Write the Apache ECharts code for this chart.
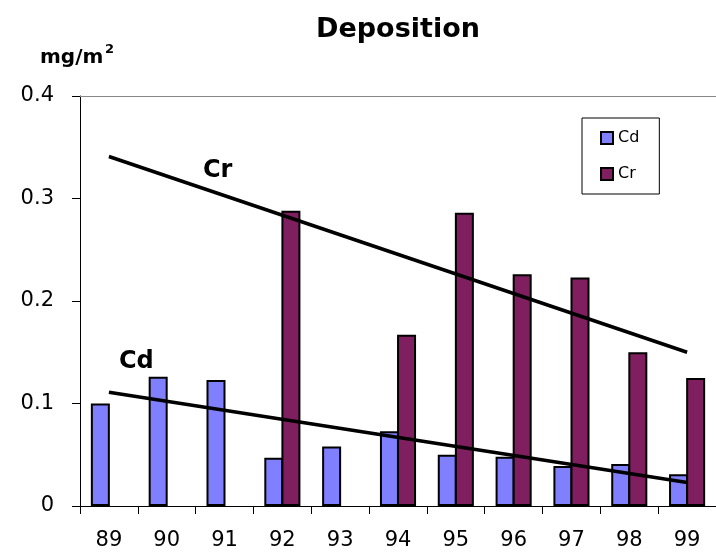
<!DOCTYPE html>
<html>
<head>
<meta charset="utf-8">
<script src="https://cdn.jsdelivr.net/npm/echarts@6/dist/echarts.min.js"></script>
<style>
html,body{margin:0;padding:0;background:#fff;}
#chart{width:716px;height:556px;}
</style>
</head>
<body>
<div id="chart"></div>
<script>
var years = ['89','90','91','92','93','94','95','96','97','98','99'];
var cdValues = [0.100,0.126,0.123,0.047,0.058,0.073,0.050,0.048,0.039,0.041,0.031];
var crValues = [null,null,null,0.288,null,0.167,0.286,0.226,0.223,0.150,0.125];
var cdTrend = [['89',0.111],['99',0.023]];
var crTrend = [['89',0.341],['99',0.150]];
var yTicks = [0,0.1,0.2,0.3,0.4];

var FONT = 'DejaVu Sans';
var chart = echarts.init(document.getElementById('chart'), null, {renderer:'canvas'});
chart.setOption({
  animation:false,
  backgroundColor:'#fff',
  title:{
    text:'Deposition', left:393, top:11, textAlign:'center',
    textStyle:{fontFamily:FONT, fontWeight:'bold', fontSize:27, color:'#000'}
  },
  graphic:[
    {type:'text', left:40, top:48, style:{text:'mg/m', font:'bold 20px "DejaVu Sans"', fill:'#000'}},
    {type:'text', left:105, top:43, style:{text:'2', font:'bold 13px "DejaVu Sans"', fill:'#000'}},
    {type:'text', left:203, top:159, style:{text:'Cr', font:'bold 24px "DejaVu Sans"', fill:'#000'}},
    {type:'text', left:119, top:350, style:{text:'Cd', font:'bold 24px "DejaVu Sans"', fill:'#000'}}
  ],
  legend:{
    data:['Cd','Cr'], orient:'vertical', left:582, top:118,
    padding:[12,20,12,18], itemGap:20, itemWidth:12, itemHeight:12, icon:'rect',
    borderColor:'#000', borderWidth:1, backgroundColor:'#fff',
    textStyle:{fontFamily:FONT, fontSize:16, color:'#000'}
  },
  grid:{left:80, right:-7, top:96, bottom:50, containLabel:false},
  xAxis:[{
    type:'category', data:years, boundaryGap:true,
    axisLine:{lineStyle:{color:'#000', width:1.2}},
    axisTick:{show:true, interval:0, length:8, lineStyle:{color:'#000'}},
    axisLabel:{fontFamily:FONT, fontSize:21, color:'#000', margin:24, interval:0}
  },{
    type:'category', data:years, position:'top',
    axisLine:{lineStyle:{color:'#888', width:1}},
    axisTick:{show:false}, axisLabel:{show:false}
  }],
  yAxis:{
    type:'value', min:0, max:0.4, interval:0.1,
    axisLine:{show:true, lineStyle:{color:'#000', width:1}},
    axisTick:{show:true, length:8, lineStyle:{color:'#000'}},
    splitLine:{show:false},
    axisLabel:{fontFamily:FONT, fontSize:21, color:'#000', margin:26,
      formatter:function(v){ for(var i=0;i<yTicks.length;i++){ if(Math.abs(yTicks[i]-v)<1e-9) return String(yTicks[i]); } return ''; }}
  },
  series:[
    {name:'Cd', type:'bar', data:cdValues, barWidth:19, barGap:'-10%',
      itemStyle:{color:'#8080FF', borderColor:'#000', borderWidth:2}},
    {name:'Cr', type:'bar', data:crValues, barWidth:19, barGap:'-10%',
      itemStyle:{color:'#7F1F5F', borderColor:'#000', borderWidth:2}},
    {name:'CdTrend', type:'line', data:cdTrend, showSymbol:false, symbol:'none',
      lineStyle:{color:'#000', width:3.5}, z:5},
    {name:'CrTrend', type:'line', data:crTrend, showSymbol:false, symbol:'none',
      lineStyle:{color:'#000', width:3.5}, z:5}
  ]
});
</script>
</body>
</html>
